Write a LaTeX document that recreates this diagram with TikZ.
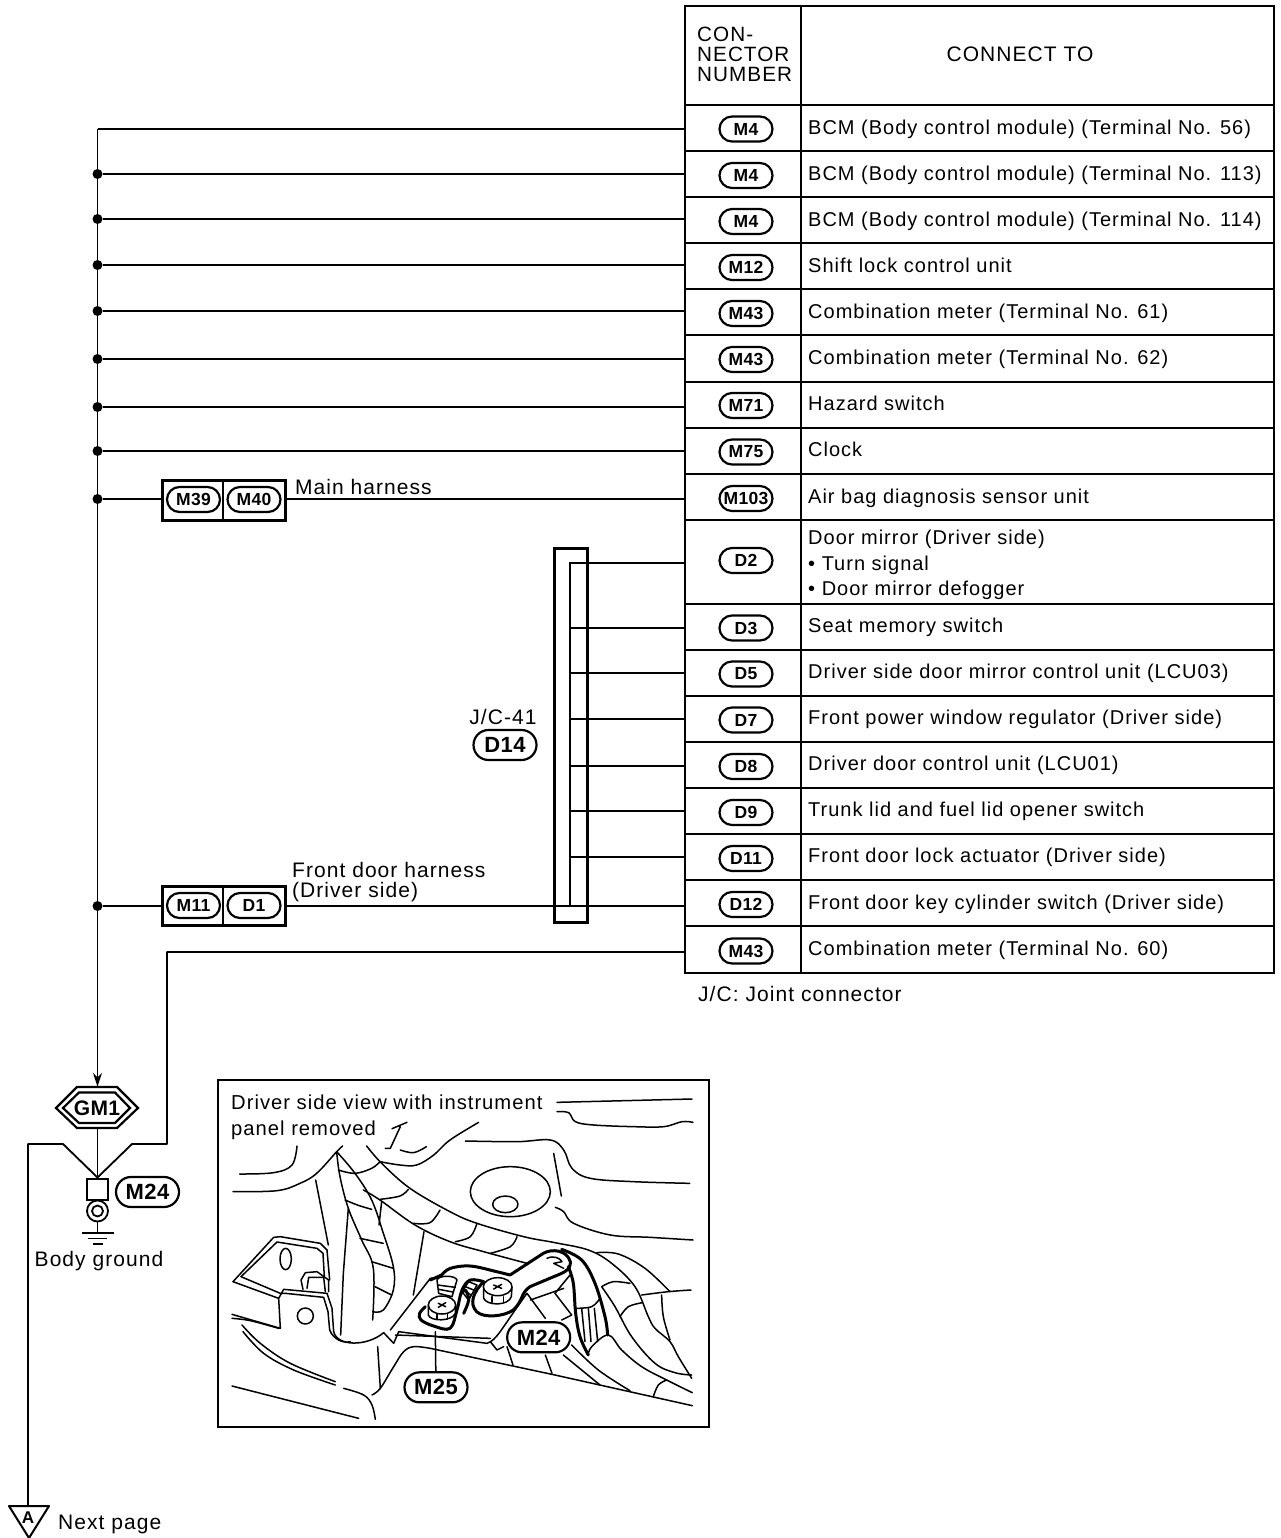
\documentclass[tikz,border=0pt]{standalone}
\usepackage{fontspec}
\setmainfont{Liberation Sans}[LetterSpace=5]
\newfontfamily\pillfont{Liberation Sans}[LetterSpace=2]
\usetikzlibrary{shapes.misc,arrows.meta}
\newcommand\crv[1]{\draw[ill] plot[smooth,tension=.6] coordinates {#1}}
\newcommand\crvb[1]{\draw[illb] plot[smooth,tension=.6] coordinates {#1}}
\tikzset{
  grid/.style={line width=2pt,line cap=rect},
  wire/.style={line width=1.8pt},
  heavy/.style={line width=3pt},
  lbl/.style={inner sep=0pt,anchor=base west,font=\fontsize{20}{20}\selectfont},
  lblb/.style={lbl,font=\fontsize{21}{20}\selectfont},
  mlbl/.style={inner sep=0pt,anchor=west,align=left,font=\fontsize{21}{20}\selectfont},
  ctr/.style={inner sep=0pt,anchor=base,font=\fontsize{21}{20}\selectfont},
  pill/.style={rounded rectangle,draw,line width=2.2pt,fill=white,inner sep=0pt,minimum width=53pt,minimum height=25pt,font=\pillfont\bfseries\fontsize{17.5}{17.5}\selectfont},
  bigpill/.style={pill,minimum width=63pt,minimum height=30pt,font=\pillfont\bfseries\fontsize{22}{22}\selectfont},
  dot/.style={circle,fill,inner sep=0pt,minimum size=10pt},
  ill/.style={line width=1.5pt,line join=round,line cap=round},
  illb/.style={line width=3pt,line join=round,line cap=round},
}
\begin{document}
\begin{tikzpicture}[x=1pt,y=-1pt]
\useasboundingbox (0,0) rectangle (1281,1538);
% table
\draw[grid] (685,6) rectangle (1274,973);
\draw[grid] (801,6) -- (801,973);
\foreach \y in {105,151,197,243,289,335,382,428,474,520,604,650,696,742,788,834,880,926}
  \draw[grid] (685,\y) -- (1274,\y);
\node[mlbl,font=\fontsize{20.7}{20}\selectfont] (hdA) at (697,54.5) {CON-\\NECTOR\\NUMBER};
\node[ctr] (hdB) at (1020,62) {CONNECT TO};
% rows
\foreach \n/\py/\pl/\ty/\tx in {
 1/129/M4/127/{BCM (Body control module) (Terminal No. 56)},
 2/175.5/M4/173/{BCM (Body control module) (Terminal No. 113)},
 3/221.5/M4/219/{BCM (Body control module) (Terminal No. 114)},
 4/267.5/M12/265/{Shift lock control unit},
 5/313.5/M43/311/{Combination meter (Terminal No. 61)},
 6/359.5/M43/357/{Combination meter (Terminal No. 62)},
 7/405.5/M71/403/{Hazard switch},
 8/452/M75/449/{Clock},
 9/498.5/M103/496/{Air bag diagnosis sensor unit},
 11/628/D3/625/{Seat memory switch},
 12/674/D5/671/{Driver side door mirror control unit (LCU03)},
 13/720/D7/717/{Front power window regulator (Driver side)},
 14/766.5/D8/763/{Driver door control unit (LCU01)},
 15/812.5/D9/809/{Trunk lid and fuel lid opener switch},
 16/858.5/D11/855/{Front door lock actuator (Driver side)},
 17/904.5/D12/902/{Front door key cylinder switch (Driver side)},
 18/951/M43/948/{Combination meter (Terminal No. 60)}}{
  \node[pill] (p\n) at (746,\py) {\pl};
  \node[lbl] (t\n) at (808,{\ty+7.5}) {\tx};
}
\node[pill] (p10) at (746,560.5) {D2};
\node[mlbl,font=\fontsize{20}{25.5}\selectfont] (t10) at (808,565) {Door mirror (Driver side)\\• Turn signal\\• Door mirror defogger};
% left bus
\coordinate (top) at (97.5,129);
\node[inner sep=0pt,minimum size=0pt] (gmtop) at (97.5,1087) {};
\draw[wire,-{Stealth[length=14pt,width=9pt]}] (top) -- (gmtop);
\foreach \n/\y in {2/174,3/219,4/265,5/311,6/359,7/407,8/451}{
  \node[dot] (b\n) at (97.5,\y) {};
  \coordinate (w\n) at (685,\y);
  \draw[wire] (b\n) -- (w\n);
}
\coordinate (w1) at (685,129);
\draw[wire] (top) -- (w1);
% inline connectors
\node[dot] (b9) at (97.5,499) {};
\coordinate (w9) at (685,499);
\draw[heavy] (162,480) rectangle (285,520);
\draw[line width=2.2pt] (223,480) -- (223,520);
\node[pill] (m39) at (193.5,499.5) {M39};
\node[pill] (m40) at (254,499.5) {M40};
\draw[wire] (b9) -- (162,499);
\draw[wire] (285,499) -- (w9);
\node[lblb] (mh) at (295,494) {Main harness};
\node[dot] (b17) at (97.5,906) {};
\coordinate (w17) at (685,906);
\draw[heavy] (162,886) rectangle (285,925);
\draw[line width=2.2pt] (223,886) -- (223,925);
\node[pill] (m11) at (193.5,905.5) {M11};
\node[pill] (d1) at (254,905.5) {D1};
\draw[wire] (b17) -- (162,906);
\draw[wire] (285,906) -- (w17);
\node[mlbl] (fd) at (292,882.5) {Front door harness\\(Driver side)};
% joint connector
\draw[heavy] (554,548.5) rectangle (587,922);
\coordinate (jtop) at (570,563);
\coordinate (jbot) at (570,906);
\coordinate (w10) at (685,563);
\draw[wire] (w10) -- (jtop) -- (jbot);
\foreach \n/\y in {11/628,12/673,13/719,14/766,15/811,16/857}{
  \coordinate (j\n) at (570,\y);
  \coordinate (w\n) at (685,\y);
  \draw[wire] (j\n) -- (w\n);
}
\node[ctr] (jc) at (503,724.5) {J/C-41};
\node[bigpill] (d14) at (505,745) {D14};
\node[lblb] (jcn) at (698,1001) {J/C: Joint connector};
% ground section
\draw[line width=2.2pt] (56,1108) -- (77,1087) -- (117,1087) -- (138,1108) -- (117,1128) -- (77,1128) -- cycle;
\draw[line width=2.2pt] (63,1108) -- (79,1092.5) -- (115,1092.5) -- (130,1108) -- (115,1123) -- (79,1123) -- cycle;
\node[inner sep=0pt,font=\pillfont\bfseries\fontsize{21}{21}\selectfont] (gm1) at (97,1108) {GM1};
\node[draw,line width=2pt,fill=white,minimum size=21pt,inner sep=0pt] (sq) at (97.5,1189) {};
\coordinate (gmb) at (97.5,1128);
\draw[wire] (gmb) -- (sq.north);
\coordinate (w18) at (685,952);
\node[inner sep=0pt,minimum size=0pt] (a) at (28,1506) {};
\draw[wire,line join=round] (sq.north) -- (132,1144) -- (167,1144) -- (167,952) -- (w18);
\draw[wire,line join=round] (sq.north) -- (63,1144) -- (28,1144) -- (a);
\node[bigpill] (m24a) at (147.5,1192) {M24};
\node[circle,draw,line width=1.8pt,minimum size=21pt,inner sep=0pt] (ring) at (97.5,1211) {};
\node[circle,draw,line width=1.8pt,minimum size=11pt,inner sep=0pt] at (97.5,1211) {};
\coordinate (gnd) at (97.5,1233);
\draw[wire] (ring) -- (gnd);
\draw[wire] (82,1233) -- (114,1233);
\draw[wire] (88,1238.5) -- (107,1238.5);
\draw[wire] (92.5,1244) -- (102.5,1244);
\node[ctr] (bg) at (99,1266) {Body ground};
\draw[line width=2pt,line join=round] (9,1506) -- (49,1506) -- (29,1538) -- cycle;
\node[inner sep=0pt,font=\pillfont\bfseries\fontsize{17}{17}\selectfont] (atxt) at (28,1518) {A};
\node[lblb] (np) at (58,1529) {Next page};
% illustration
\draw[line width=2pt] (218,1080) rectangle (709,1427);
\node[mlbl,font=\fontsize{20.2}{26}\selectfont] (vw) at (231,1117) {Driver side view with instrument\\panel removed};
\begin{scope}[shift={(217,1080)},x=0.33333pt,y=-0.33333pt]
\crv{(1020,67)(1425,57)};
\crv{(1020,95)(1055,98)(1075,125)(1130,135)(1250,140)(1340,140)(1395,125)(1428,127)};
\draw[ill] (525,146) -- (570,127) (550,140) -- (520,205) -- (505,205);
\crv{(550,210)(590,218)(628,200)};
\crv{(785,127)(699,180)(650,225)(599,255)(549,255)(489,245)};
\crv{(745,183)(900,185)(1000,180)(1040,210)(1065,265)(1120,295)(1250,305)(1418,310)};
\draw[ill] (1010,220) -- (1033,348);
\draw[ill] (880,335) ellipse [x radius=120,y radius=75];
\draw[ill] (865,373) ellipse [x radius=38,y radius=25];
\crv{(1015,382)(1040,395)(1070,430)(1180,465)(1300,472)(1428,480)};
\crv{(240,198)(225,255)(170,278)(68,282)};
\crv{(48,335)(180,332)(249,310)(299,280)(359,215)(377,198)};
% long curves
\crv{(449,198)(494,250)(579,325)(699,395)(780,430)(920,470)(1014,488)(1114,510)(1184,550)(1254,620)(1294,710)(1314,745)(1359,785)(1384,830)(1424,895)};
\crv{(439,330)(489,360)(594,435)(699,485)(800,515)(930,550)};
\crv{(1139,518)(1204,522)(1284,565)(1359,635)};
% ribs
\crv{(364,270)(414,280)(464,265)(489,245)};
\crv{(384,360)(424,376)(464,388)};
\crv{(489,358)(549,348)(574,328)};
\crv{(589,430)(639,428)(669,390)};
\crv{(780,430)(760,470)(715,485)};
\crv{(900,470)(880,500)(820,520)};
% pillar
\crv{(359,215)(369,290)(394,385)(434,480)(469,565)(467,720)};
\crv{(359,215)(414,280)(464,360)(499,460)(529,560)(529,630)(499,690)(467,695)};
\draw[ill] (394,385) -- (379,580) -- (371,765);
\draw[ill] (296,300) -- (334,495);
\draw[ill] (494,365) -- (486,435);
\draw[ill] (621,455) -- (589,645);
\crv{(429,475)(499,490)};
\crv{(464,545)(529,565)};
\crv{(474,620)(524,645)};
% bracket
\draw[ill] (48,605) -- (170,472) -- (190,470) -- (310,490) -- (330,510) -- (338,600);
\draw[ill] (72,590) -- (180,486) -- (300,505) -- (318,520) -- (322,590);
\draw[ill] (48,605) -- (185,655) -- (200,628) -- (330,640) -- (345,685) -- (350,755);
\draw[ill] (72,590) -- (190,640) -- (205,640) -- (320,652) -- (333,695) -- (338,750);
\draw[ill] (350,755) .. controls (360,800) and (450,800) .. (500,758) -- (530,790) -- (545,755) -- (810,790) .. controls (840,780) and (850,750) .. (930,640);
\draw[ill] (338,750) .. controls (350,780) and (380,790) .. (400,785);
\draw[ill] (520,750) -- (640,595) -- (680,590);
\draw[ill] (535,765) -- (820,775);
\draw[ill] (206,537) ellipse [x radius=17,y radius=32];
\draw[ill] (265,708) ellipse [x radius=24,y radius=24];
% hex bolt left
\draw[ill] (252,600) -- (265,578) -- (300,575) -- (335,600) -- (335,635) (252,600) -- (258,628);
\draw[ill] (270,625) -- (275,592) -- (320,592) -- (325,635);
% lower panel
\draw[ill] (45,703) -- (190,745) -- (185,655);
\crv{(45,715)(100,722)(185,745)};
\crv{(78,755)(140,820)(230,870)(355,915)};
\crv{(75,735)(130,790)(220,850)(355,905)};
\crv{(380,925)(440,945)(465,975)(475,1018)};
\draw[ill] (45,918) -- (425,1015);
\crv{(465,945)(490,925)(530,860)(560,815)(590,800)(640,805)};
\draw[ill] (640,805) -- (1014,885) -- (1426,977);
\draw[ill] (482,800) -- (490,925);
\draw[ill] (820,785) -- (840,810) -- (860,800);
\draw[ill] (870,800) -- (888,855);
\draw[ill] (985,825) -- (1005,880);
\crv{(1039,825)(1094,870)(1149,915)};
\crv{(1064,795)(1144,870)(1239,932)};
\crv{(1349,900)(1324,915)(1309,950)};
% right harness
\crv{(1154,620)(1194,680)(1244,770)(1314,850)(1374,878)(1424,885)};
\crv{(1274,645)(1354,635)(1422,630)};
\crv{(1334,645)(1339,710)(1359,780)};
\crv{(1154,620)(1189,605)(1239,610)};
\crv{(1209,710)(1234,680)(1276,668)};
\crv{(1114,825)(1124,800)(1174,765)(1214,810)(1274,860)(1349,900)(1426,938)};
\crv{(1076,685)(1124,680)(1149,655)};
\foreach \x/\xx in {1094/1104,1114/1122,1132/1142}{\draw[ill] (\x,685) -- (\xx,785);}
% underside ribs
\draw[ill] (930,640) -- (985,715);
\draw[ill] (1014,640) -- (1064,705);
\draw[ill] (940,660) -- (1040,625);
\draw[ill] (1034,720) -- (1064,705);
\draw[ill] (1059,585) -- (1014,640);
% thick harness
\crvb{(1034,508)(1094,540)(1134,610)(1164,710)(1172,765)};
\crvb{(1054,560)(1069,610)(1076,700)(1089,770)(1114,825)};
% small terminals behind
\draw[ill,fill=white] (660,600) .. controls (665,585) and (715,585) .. (720,600) -- (705,650) -- (665,640) -- cycle;
\draw[ill] (662,615) -- (715,622) (665,628) -- (708,636);
\draw[ill,fill=white] (735,635) -- (755,605) -- (780,615) -- (755,660) -- cycle;
\draw[ill] (745,620) -- (770,630) (740,630) -- (762,645);
% lugs
\crvb{(674,585)(700,565)(760,558)(839,575)(879,585)};
\crvb{(640,600)(674,585)};
\draw[illb] (879,585) -- (979,520) .. controls (1005,505) and (1050,510) .. (1060,545) .. controls (1062,570) and (1040,578) .. (1010,590) -- (939,620) .. controls (910,640) and (920,660) .. (889,690) .. controls (860,710) and (800,715) .. (779,695) .. controls (755,670) and (770,635) .. (800,605);
\draw[ill] (990,535) .. controls (1010,525) and (1030,535) .. (1035,545) -- (1010,550) -- (1040,565);
\crvb{(800,605)(760,600)(735,630)(720,690)(699,745)(650,738)(612,720)(608,700)(625,680)};
\crvb{(735,640)(745,630)(755,660)(740,700)};
% bolts
\draw[ill,fill=white] (634,675) -- (634,705) .. controls (640,725) and (705,725) .. (715,700) -- (716,675) -- cycle;
\draw[ill,fill=white] (675,675) ellipse [x radius=41,y radius=27];
\draw[ill] (664,670) -- (686,680) (686,668) -- (664,682);
\draw[ill] (660,703) -- (660,717) (692,703) -- (692,717);
\draw[ill,fill=white] (800,622) -- (800,655) .. controls (810,678) and (875,678) .. (883,650) -- (885,622) -- cycle;
\draw[ill,fill=white] (842,620) ellipse [x radius=43,y radius=27];
\draw[ill] (830,615) -- (854,625) (854,613) -- (830,627);
\draw[ill] (825,650) -- (825,667) (860,650) -- (860,667);
% labels
\coordinate (m25t) at (655,755);
\node[bigpill] (m24b) at (965,772) {M24};
\node[bigpill] (m25b) at (657,922) {M25};
\draw[ill] (m25t) -- (m25b);
\end{scope}
\end{tikzpicture}
\end{document}
